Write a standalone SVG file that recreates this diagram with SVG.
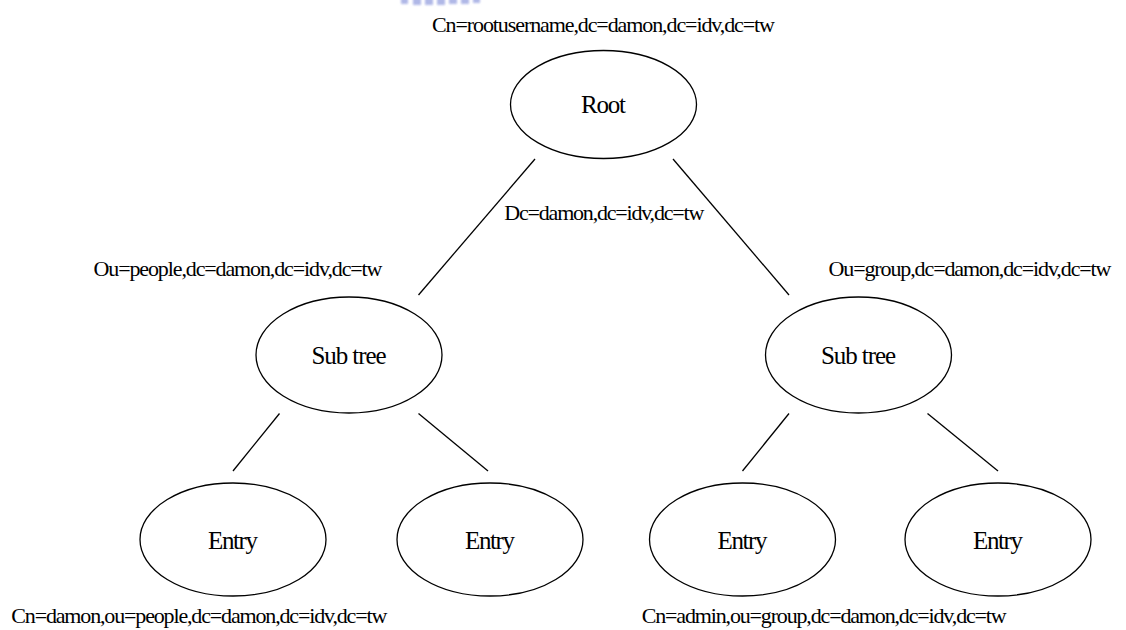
<svg xmlns="http://www.w3.org/2000/svg" width="1126" height="630" viewBox="0 0 1126 630">
  <style>
    .node ellipse { fill: #ffffff; stroke: #000000; stroke-width: 1.3; }
    .node text { font-family: "Liberation Serif", "Times New Roman", serif; font-size: 25px; fill: #000000; text-anchor: middle; }
    .dn { font-family: "Liberation Serif", "Times New Roman", serif; font-size: 22px; fill: #000000; text-anchor: middle; }
    #connectors line { stroke: #000000; stroke-width: 1.3; }
    .logo rect { fill: #a3ace3; }
  </style>
  <defs>
    <filter id="soft" x="-20%" y="-50%" width="140%" height="200%">
      <feGaussianBlur stdDeviation="0.9"/>
    </filter>
  </defs>

  <rect width="1126" height="630" fill="#ffffff"/>

  <!-- faint clipped emblem at the top edge -->
  <g class="logo" filter="url(#soft)" opacity="0.85">
    <rect x="401" y="-2" width="7" height="6"/>
    <rect x="413" y="-2" width="8" height="7"/>
    <rect x="425" y="-2" width="8" height="7"/>
    <rect x="437" y="-2" width="8" height="7"/>
    <rect x="449" y="-2" width="8" height="6"/>
    <rect x="461" y="-2" width="8" height="6"/>
    <rect x="473" y="-2" width="7" height="5"/>
  </g>

  <!-- connectors -->
  <g id="connectors">
    <line x1="535" y1="159" x2="418.5" y2="295"/>
    <line x1="673" y1="159" x2="789" y2="295"/>
    <line x1="279.5" y1="413.5" x2="233" y2="471"/>
    <line x1="418.5" y1="413.5" x2="488" y2="471"/>
    <line x1="789" y1="413.5" x2="742.5" y2="471"/>
    <line x1="927.5" y1="413.5" x2="998" y2="471"/>
  </g>

  <!-- distinguished names -->
  <g id="dn-labels">
    <text class="dn" x="603.5" y="32" textLength="343">Cn=rootusername,dc=damon,dc=idv,dc=tw</text>
    <text class="dn" x="604.3" y="219.5" textLength="200">Dc=damon,dc=idv,dc=tw</text>
    <text class="dn" x="238" y="276" textLength="289">Ou=people,dc=damon,dc=idv,dc=tw</text>
    <text class="dn" x="970" y="276" textLength="283">Ou=group,dc=damon,dc=idv,dc=tw</text>
    <text class="dn" x="199.3" y="623" textLength="376">Cn=damon,ou=people,dc=damon,dc=idv,dc=tw</text>
    <text class="dn" x="824.2" y="623" textLength="365">Cn=admin,ou=group,dc=damon,dc=idv,dc=tw</text>
  </g>

  <!-- tree nodes -->
  <g id="root" class="node">
    <ellipse cx="603.5" cy="104.5" rx="93" ry="54"/>
    <text x="603.5" y="113" textLength="45">Root</text>
  </g>
  <g id="subtree-people" class="node">
    <ellipse cx="349" cy="355" rx="93" ry="58"/>
    <text x="349" y="363.5" textLength="75">Sub tree</text>
  </g>
  <g id="subtree-group" class="node">
    <ellipse cx="858.5" cy="355" rx="93" ry="58"/>
    <text x="858.5" y="363.5" textLength="75">Sub tree</text>
  </g>
  <g id="entry-people-1" class="node">
    <ellipse cx="233" cy="539.5" rx="93" ry="56.5"/>
    <text x="233" y="548.5" textLength="50">Entry</text>
  </g>
  <g id="entry-people-2" class="node">
    <ellipse cx="490" cy="539.5" rx="93" ry="56.5"/>
    <text x="490" y="548.5" textLength="50">Entry</text>
  </g>
  <g id="entry-group-1" class="node">
    <ellipse cx="742.5" cy="539.5" rx="93" ry="56.5"/>
    <text x="742.5" y="548.5" textLength="50">Entry</text>
  </g>
  <g id="entry-group-2" class="node">
    <ellipse cx="998" cy="539.5" rx="93" ry="56.5"/>
    <text x="998" y="548.5" textLength="50">Entry</text>
  </g>
</svg>
